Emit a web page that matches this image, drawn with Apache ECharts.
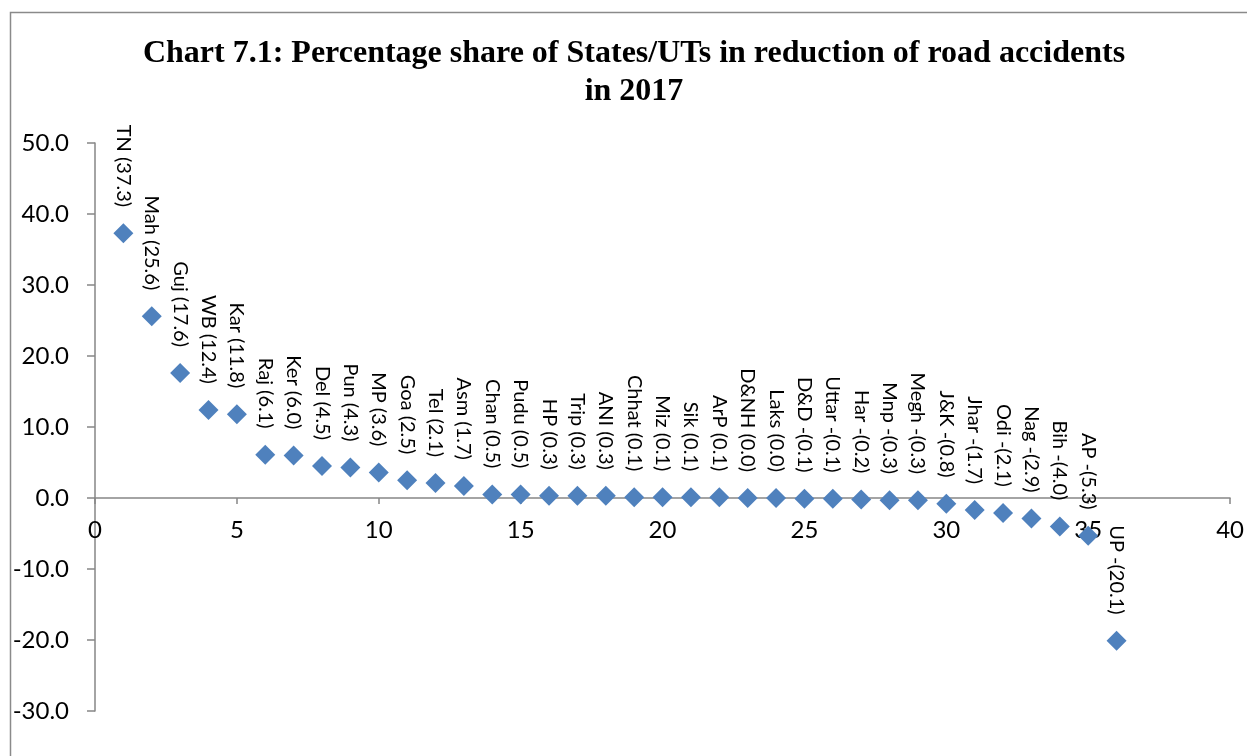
<!DOCTYPE html>
<html>
<head>
<meta charset="utf-8">
<script src="https://cdn.jsdelivr.net/npm/echarts@6/dist/echarts.min.js"></script>
<style>
html,body{margin:0;padding:0;background:#fff;}
#chart{width:1247px;height:756px;}
</style>
</head>
<body>
<div id="chart"></div>
<script>
const xPositions = [1,2,3,4,5,6,7,8,9,10,11,12,13,14,15,16,17,18,19,20,21,22,23,24,25,26,27,28,29,30,31,32,33,34,35,36];
const values = [37.3,25.6,17.6,12.4,11.8,6.1,6.0,4.5,4.3,3.6,2.5,2.1,1.7,0.5,0.5,0.3,0.3,0.3,0.1,0.1,0.1,0.1,0.0,0.0,-0.1,-0.1,-0.2,-0.3,-0.3,-0.8,-1.7,-2.1,-2.9,-4.0,-5.3,-20.1];
const labels = ["TN (37.3)","Mah (25.6)","Guj (17.6)","WB (12.4)","Kar (11.8)","Raj (6.1)","Ker (6.0)","Del (4.5)","Pun (4.3)","MP (3.6)","Goa (2.5)","Tel (2.1)","Asm (1.7)","Chan (0.5)","Pudu (0.5)","HP (0.3)","Trip (0.3)","ANI (0.3)","Chhat (0.1)","Miz (0.1)","Sik (0.1)","ArP (0.1)","D&NH (0.0)","Laks (0.0)","D&D -(0.1)","Uttar -(0.1)","Har -(0.2)","Mnp -(0.3)","Megh -(0.3)","J&K -(0.8)","Jhar -(1.7)","Odi -(2.1)","Nag -(2.9)","Bih -(4.0)","AP -(5.3)","UP -(20.1)"];
const titleLines = ["Chart 7.1: Percentage share of States/UTs in reduction of road accidents","in 2017"];

const yMin = -30, yMax = 50;
const gridTop = 143, gridBottom = 45, chartH = 756;
const plotH = chartH - gridTop - gridBottom;
// shift the x axis up so it sits on y = 0
const xAxisOffset = -plotH * (0 - yMin) / (yMax - yMin);

const chart = echarts.init(document.getElementById('chart'), null, {renderer:'canvas'});
const axisFont = 'Lato, "Open Sans", sans-serif';
const data = xPositions.map((x,i)=>({value:[x, values[i]], label:{formatter: labels[i]}}));
const titleFont = 'bold 32px "Liberation Serif", "Times New Roman", serif';

chart.setOption({
  animation:false,
  backgroundColor:'#fff',
  graphic:[
    {type:'rect', shape:{x:10.5,y:12.5,width:1300,height:800}, style:{fill:'none', stroke:'#8a8a8a', lineWidth:1.5}, z:-1},
    {type:'text', x:634, y:70, style:{text:titleLines[0], textAlign:'center', textVerticalAlign:'bottom', font:titleFont, fill:'#000'}},
    {type:'text', x:634, y:108, style:{text:titleLines[1], textAlign:'center', textVerticalAlign:'bottom', font:titleFont, fill:'#000'}}
  ],
  grid:{left:95, right:16, top:gridTop, bottom:gridBottom, containLabel:false},
  xAxis:{
    type:'value', min:0, max:40, interval:5, position:'bottom', offset:xAxisOffset,
    axisLine:{show:true, onZero:false, lineStyle:{color:'#868686', width:1.5}},
    axisTick:{show:true, length:6, lineStyle:{color:'#868686', width:1.5}},
    axisLabel:{margin:20, fontSize:24, color:'#000', fontFamily:axisFont},
    splitLine:{show:false}
  },
  yAxis:{
    type:'value', min:yMin, max:yMax, interval:10,
    axisLine:{show:true, onZero:false, lineStyle:{color:'#868686', width:1.5}},
    axisTick:{show:true, length:8, lineStyle:{color:'#868686', width:1.5}},
    axisLabel:{margin:26, fontSize:24, color:'#000', fontFamily:axisFont, formatter:v=>v.toFixed(1)},
    splitLine:{show:false}
  },
  series:[{
    type:'scatter',
    symbol:'diamond',
    symbolSize:20,
    itemStyle:{color:'#4F81BD', opacity:1},
    data:data,
    label:{
      show:true, position:'top', distance:16, rotate:-90,
      align:'right', verticalAlign:'middle',
      fontSize:20, color:'#000', fontFamily:axisFont
    }
  }]
});
</script>
</body>
</html>
